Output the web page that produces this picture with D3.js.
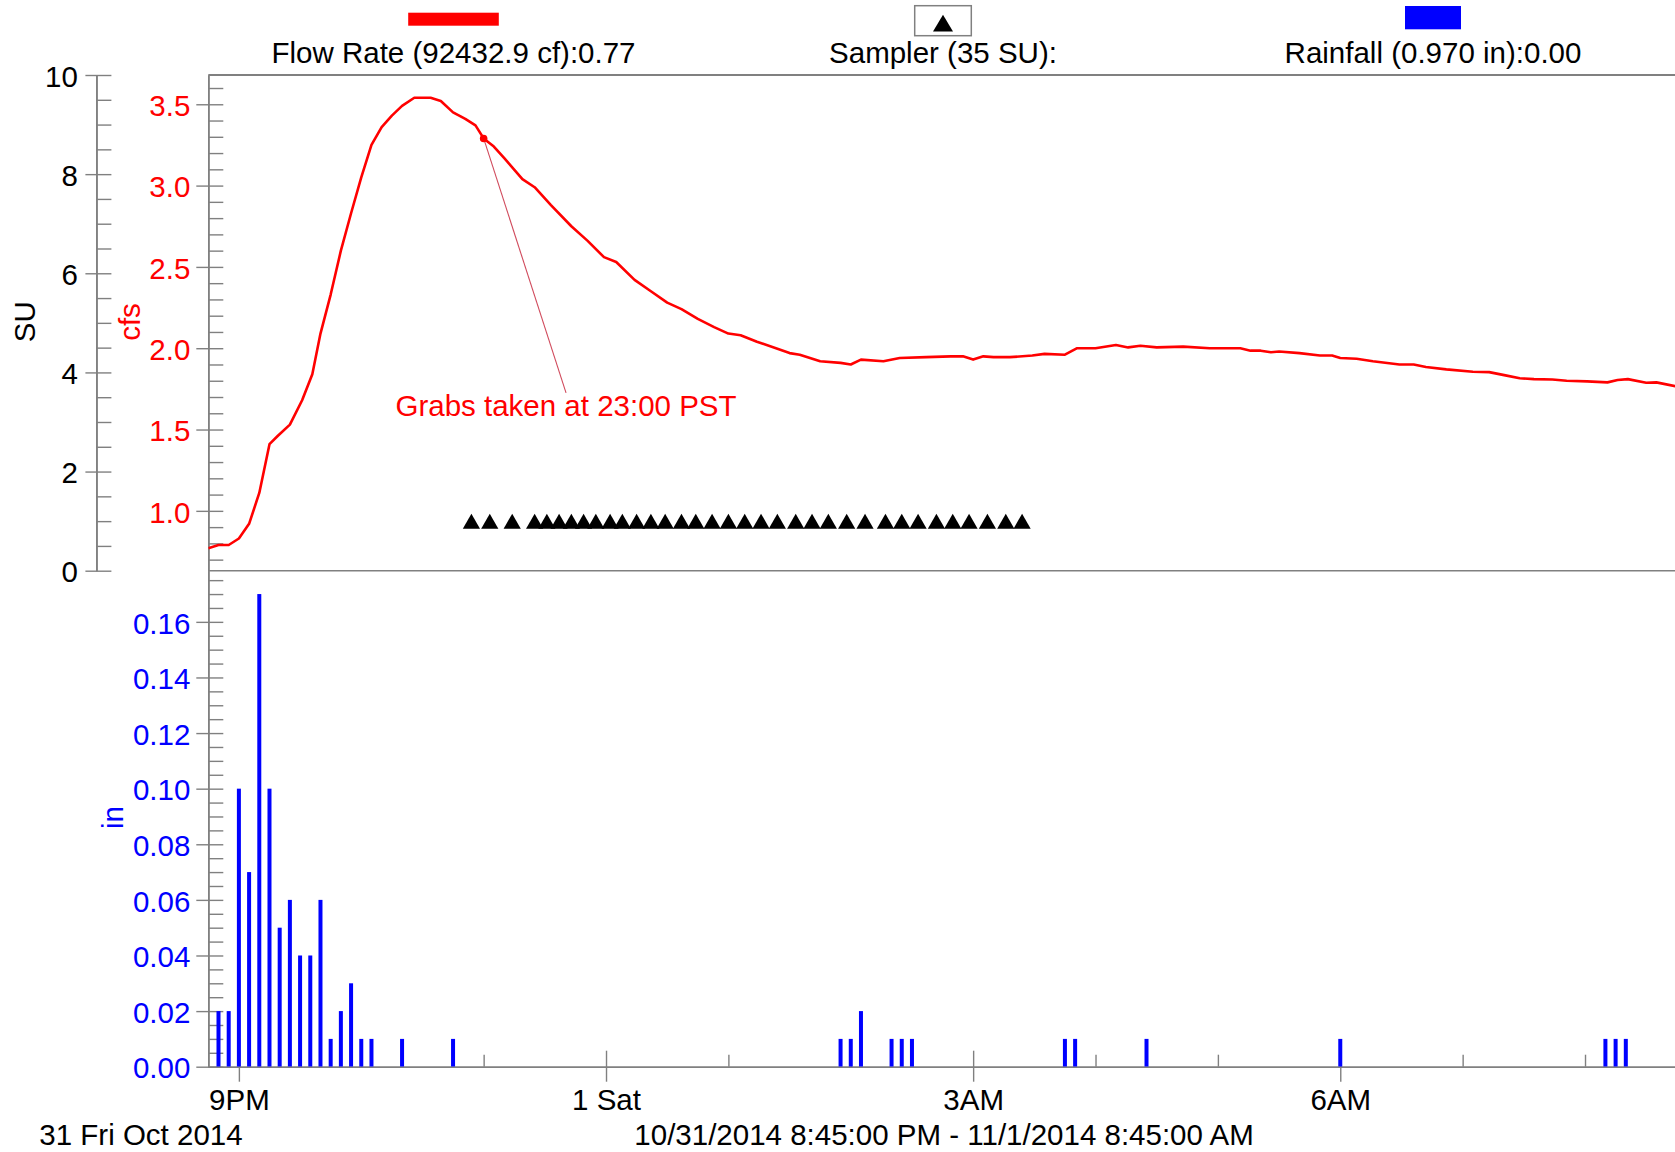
<!DOCTYPE html>
<html>
<head>
<meta charset="utf-8">
<script src="https://cdn.jsdelivr.net/npm/d3@7"></script>
<style>
  html, body { margin: 0; padding: 0; background: #fff; }
  svg { display: block; font-family: "Liberation Sans", Arial, Helvetica, sans-serif; }
</style>
</head>
<body>
<svg id="chart" width="1675" height="1152"></svg>
<script>
// ---- data -------------------------------------------------------------
// Flow rate (cfs), logged at the station
const flowSeries = [
  ["10-31 20:45",0.77],["10-31 20:50",0.79],["10-31 20:55",0.79],["10-31 21:00",0.83],
  ["10-31 21:05",0.92],["10-31 21:10",1.11],["10-31 21:15",1.41],["10-31 21:19",1.46],
  ["10-31 21:25",1.53],["10-31 21:31",1.68],["10-31 21:36",1.84],["10-31 21:40",2.09],
  ["10-31 21:45",2.33],["10-31 21:50",2.60],["10-31 21:55",2.83],["10-31 22:00",3.05],
  ["10-31 22:05",3.25],["10-31 22:10",3.36],["10-31 22:15",3.43],["10-31 22:20",3.49],
  ["10-31 22:26",3.54],["10-31 22:34",3.54],["10-31 22:39",3.52],["10-31 22:45",3.45],
  ["10-31 22:51",3.41],["10-31 22:56",3.37],["10-31 23:00",3.29],["10-31 23:05",3.24],
  ["10-31 23:10",3.17],["10-31 23:19",3.04],["10-31 23:25",2.99],["10-31 23:33",2.88],
  ["10-31 23:43",2.75],["10-31 23:51",2.66],["10-31 23:59",2.56],["11-01 00:05",2.53],
  ["11-01 00:14",2.42],["11-01 00:22",2.35],["11-01 00:30",2.28],["11-01 00:37",2.24],
  ["11-01 00:45",2.18],["11-01 00:53",2.13],["11-01 01:00",2.09],["11-01 01:06",2.08],
  ["11-01 01:14",2.04],["11-01 01:30",1.97],["11-01 01:35",1.96],["11-01 01:45",1.92],
  ["11-01 01:55",1.91],["11-01 02:00",1.90],["11-01 02:05",1.93],["11-01 02:16",1.92],
  ["11-01 02:24",1.94],["11-01 02:37",1.945],["11-01 02:49",1.95],["11-01 02:55",1.95],
  ["11-01 03:00",1.93],["11-01 03:05",1.95],["11-01 03:10",1.945],["11-01 03:18",1.945],
  ["11-01 03:29",1.955],["11-01 03:35",1.965],["11-01 03:45",1.96],["11-01 03:51",2.00],
  ["11-01 04:00",2.00],["11-01 04:10",2.02],["11-01 04:16",2.005],["11-01 04:22",2.015],
  ["11-01 04:30",2.005],["11-01 04:43",2.01],["11-01 04:56",2.00],["11-01 05:11",2.00],
  ["11-01 05:16",1.985],["11-01 05:21",1.985],["11-01 05:26",1.975],["11-01 05:30",1.98],
  ["11-01 05:40",1.97],["11-01 05:50",1.955],["11-01 05:56",1.955],["11-01 06:00",1.94],
  ["11-01 06:08",1.935],["11-01 06:16",1.92],["11-01 06:29",1.90],["11-01 06:36",1.90],
  ["11-01 06:42",1.885],["11-01 06:52",1.87],["11-01 07:05",1.855],["11-01 07:13",1.853],
  ["11-01 07:21",1.833],["11-01 07:28",1.815],["11-01 07:35",1.81],["11-01 07:44",1.808],
  ["11-01 07:51",1.80],["11-01 08:01",1.796],["11-01 08:11",1.79],["11-01 08:16",1.805],
  ["11-01 08:21",1.81],["11-01 08:30",1.788],["11-01 08:35",1.79],["11-01 08:45",1.765]
];

// Rainfall per 5-minute interval (in)
const rainTimes = [
  "10-31 20:50","10-31 20:55","10-31 21:00","10-31 21:05","10-31 21:10","10-31 21:15",
  "10-31 21:20","10-31 21:25","10-31 21:30","10-31 21:35","10-31 21:40","10-31 21:45",
  "10-31 21:50","10-31 21:55","10-31 22:00","10-31 22:05","10-31 22:20","10-31 22:45",
  "11-01 01:55","11-01 02:00","11-01 02:05","11-01 02:20","11-01 02:25","11-01 02:30",
  "11-01 03:45","11-01 03:50","11-01 04:25","11-01 06:00","11-01 08:10","11-01 08:15",
  "11-01 08:20"
];
const rainInches = [
  0.02,0.02,0.10,0.07,0.17,0.10,
  0.05,0.06,0.04,0.04,0.06,0.01,
  0.02,0.03,0.01,0.01,0.01,0.01,
  0.01,0.01,0.02,0.01,0.01,0.01,
  0.01,0.01,0.01,0.01,0.01,0.01,
  0.01
];

// Sampler events (SU)
const samplerSeries = [
  ["10-31 22:54",1],["10-31 23:03",1],["10-31 23:14",1],["10-31 23:25",1],["10-31 23:31",1],
  ["10-31 23:37",1],["10-31 23:43",1],["10-31 23:49",1],["10-31 23:55",1],["11-01 00:02",1],
  ["11-01 00:08",1],["11-01 00:15",1],["11-01 00:22",1],["11-01 00:29",1],["11-01 00:37",1],
  ["11-01 00:44",1],["11-01 00:52",1],["11-01 01:00",1],["11-01 01:08",1],["11-01 01:16",1],
  ["11-01 01:24",1],["11-01 01:33",1],["11-01 01:41",1],["11-01 01:49",1],["11-01 01:58",1],
  ["11-01 02:07",1],["11-01 02:17",1],["11-01 02:25",1],["11-01 02:33",1],["11-01 02:42",1],
  ["11-01 02:50",1],["11-01 02:58",1],["11-01 03:07",1],["11-01 03:16",1],["11-01 03:24",1]
];

// Axes / labels
const timeDomain = ["10-31 20:45", "11-01 08:45"];
const suDomain = [0, 10];
const cfsDomain = [0.632, 3.68];
const inDomain = [0, 0.1784];
const suTicks = [0, 2, 4, 6, 8, 10];
const cfsTicks = [1.0, 1.5, 2.0, 2.5, 3.0, 3.5];
const inTicks = [0, 0.02, 0.04, 0.06, 0.08, 0.10, 0.12, 0.14, 0.16];
const timeTicks = ["10-31 21:00", "11-01 00:00", "11-01 03:00", "11-01 06:00"];
const timeTickLabels = ["9PM", "1 Sat", "3AM", "6AM"];
const hourTicks = ["10-31 22:00","10-31 23:00","11-01 01:00","11-01 02:00",
                   "11-01 04:00","11-01 05:00","11-01 07:00","11-01 08:00"];
const legendLabels = ["Flow Rate (92432.9 cf):0.77", "Sampler (35 SU):", "Rainfall (0.970 in):0.00"];
const axisTitles = ["SU", "cfs", "in"];
const annotationTime = "10-31 23:00";
const annotationText = "Grabs taken at 23:00 PST";
const dateLabel = "31 Fri Oct 2014";
const rangeLabel = "10/31/2014 8:45:00 PM - 11/1/2014 8:45:00 AM";

// ---- setup ------------------------------------------------------------
const parseTime = d3.timeParse("%Y-%m-%d %H:%M");
const T = s => parseTime("2014-" + s);

const RED = "#ff0000", BLUE = "#0000ff", GRAY = "#808080";
const FS = 29.5;

const L = 208.3, R = 1676.8;
const TOP = 75, MID = 570.7, BOT = 1066.7;
const SU_X = 96.4;

const x = d3.scaleTime().domain(timeDomain.map(T)).range([L, R]);
const ySU = d3.scaleLinear().domain(suDomain).range([MID, TOP]);
const yCfs = d3.scaleLinear().domain(cfsDomain).range([MID, TOP]);
const yIn = d3.scaleLinear().domain(inDomain).range([BOT, MID]);

const svg = d3.select("#chart");
svg.append("rect").attr("width", 1675).attr("height", 1152).attr("fill", "#fff");

function styleAxis(g, color) {
  g.select(".domain").attr("stroke", GRAY).attr("stroke-width", 1.6);
  g.selectAll(".tick line").attr("stroke", GRAY).attr("stroke-width", 1.4);
  g.selectAll(".tick text").attr("fill", color).attr("font-size", FS)
    .attr("font-family", "Liberation Sans, Arial, sans-serif");
}

// ---- legend -----------------------------------------------------------
const legendX = [453.5, 943, 1433];
const legend = svg.append("g");
legend.append("rect").attr("x", legendX[0] - 45.3).attr("y", 12.7)
  .attr("width", 90.6).attr("height", 13).attr("fill", RED);
legend.append("rect").attr("x", legendX[1] - 28.3).attr("y", 5.7)
  .attr("width", 56.6).attr("height", 30).attr("fill", "#fff")
  .attr("stroke", GRAY).attr("stroke-width", 1.5);
legend.append("path")
  .attr("d", `M${legendX[1]},14.8 L${legendX[1] + 10},31.6 L${legendX[1] - 10},31.6 Z`)
  .attr("fill", "#000");
legend.append("rect").attr("x", legendX[2] - 28).attr("y", 6)
  .attr("width", 56).attr("height", 23.3).attr("fill", BLUE);
legend.selectAll("text.lg").data(legendLabels).join("text")
  .attr("class", "lg")
  .attr("x", (d, i) => legendX[i]).attr("y", 62.5)
  .attr("text-anchor", "middle").attr("font-size", FS).attr("fill", "#000")
  .text(d => d);

// ---- frame lines ------------------------------------------------------
svg.append("line").attr("x1", L).attr("x2", R).attr("y1", TOP).attr("y2", TOP)
  .attr("stroke", GRAY).attr("stroke-width", 2);
svg.append("line").attr("x1", L).attr("x2", R).attr("y1", MID).attr("y2", MID)
  .attr("stroke", GRAY).attr("stroke-width", 1.6);

// ---- SU axis ----------------------------------------------------------
const suMinor = d3.range(0.5, 10, 0.5).filter(v => v % 2 !== 0);
const gSUminor = svg.append("g").attr("transform", `translate(${SU_X},0)`)
  .call(d3.axisRight(ySU).tickValues(suMinor).tickSize(15).tickSizeOuter(0).tickFormat(""));
styleAxis(gSUminor, "#000");
const gSU = svg.append("g").attr("transform", `translate(${SU_X},0)`)
  .call(d3.axisLeft(ySU).tickValues(suTicks).tickSize(11).tickSizeOuter(0).tickPadding(7.5));
styleAxis(gSU, "#000");
gSU.selectAll(".tick line").attr("x1", 15);
gSU.selectAll(".tick text").attr("dy", "0.38em");

// ---- cfs axis ---------------------------------------------------------
const cfsMinor = d3.range(7, 37).map(v => v / 10).filter(v => Math.round(v * 10) % 5 !== 0);
const gCfsMinor = svg.append("g").attr("transform", `translate(${L},0)`)
  .call(d3.axisRight(yCfs).tickValues(cfsMinor).tickSize(15).tickSizeOuter(0).tickFormat(""));
styleAxis(gCfsMinor, RED);
const gCfs = svg.append("g").attr("transform", `translate(${L},0)`)
  .call(d3.axisLeft(yCfs).tickValues(cfsTicks).tickSize(12).tickSizeOuter(0)
    .tickPadding(6).tickFormat(d3.format(".1f")));
styleAxis(gCfs, RED);
gCfs.selectAll(".tick line").attr("x1", 15);
gCfs.selectAll(".tick text").attr("dy", "0.38em");

// ---- rainfall axis ----------------------------------------------------
const inMinor = d3.range(1, 36).map(v => v * 0.005).filter((v, i) => (i + 1) % 4 !== 0);
const gInMinor = svg.append("g").attr("transform", `translate(${L},0)`)
  .call(d3.axisRight(yIn).tickValues(inMinor).tickSize(15).tickSizeOuter(0).tickFormat(""));
styleAxis(gInMinor, BLUE);
const gIn = svg.append("g").attr("transform", `translate(${L},0)`)
  .call(d3.axisLeft(yIn).tickValues(inTicks).tickSize(12).tickSizeOuter(0)
    .tickPadding(6).tickFormat(d3.format(".2f")));
styleAxis(gIn, BLUE);
gIn.selectAll(".tick line").attr("x1", 15);
gIn.selectAll(".tick text").attr("dy", "0.38em");

// ---- time axis --------------------------------------------------------
const gHours = svg.append("g").attr("transform", `translate(0,${BOT})`)
  .call(d3.axisTop(x).tickValues(hourTicks.map(T)).tickSize(12).tickSizeOuter(0).tickFormat(""));
styleAxis(gHours, "#000");
const gTime = svg.append("g").attr("transform", `translate(0,${BOT})`)
  .call(d3.axisBottom(x).tickValues(timeTicks.map(T)).tickSize(15).tickSizeOuter(0)
    .tickFormat((d, i) => timeTickLabels[i]));
styleAxis(gTime, "#000");
gTime.selectAll(".tick line").attr("y1", -16);
gTime.selectAll(".tick text").attr("y", 43.3).attr("dy", 0);

// ---- axis titles ------------------------------------------------------
const titlePos = [[24, 321.7, "#000"], [129.5, 322, RED], [112, 817.5, BLUE]];
svg.selectAll("text.atitle").data(axisTitles).join("text")
  .attr("class", "atitle")
  .attr("transform", (d, i) => `translate(${titlePos[i][0]},${titlePos[i][1]}) rotate(-90)`)
  .attr("text-anchor", "middle").attr("dominant-baseline", "central")
  .attr("font-size", FS).attr("fill", (d, i) => titlePos[i][2])
  .text(d => d);

svg.append("text").attr("x", 39.3).attr("y", 1145).attr("font-size", FS)
  .attr("fill", "#000").text(dateLabel);
svg.append("text").attr("x", (L + R) / 2 + 1.5).attr("y", 1145).attr("font-size", FS)
  .attr("text-anchor", "middle").attr("fill", "#000").text(rangeLabel);

// ---- plot content -----------------------------------------------------
svg.append("clipPath").attr("id", "plotClip")
  .append("rect").attr("x", L).attr("y", TOP).attr("width", R - L).attr("height", BOT - TOP);
const plot = svg.append("g").attr("clip-path", "url(#plotClip)");

// Rainfall bars
const rain = rainTimes.map((t, i) => ({ t: T(t), v: rainInches[i] }));
plot.selectAll("rect.rain").data(rain).join("rect")
  .attr("class", "rain")
  .attr("x", d => x(d.t) - 2).attr("width", 4)
  .attr("y", d => yIn(d.v)).attr("height", d => yIn(0) - yIn(d.v))
  .attr("fill", BLUE);

// Flow line
const flow = flowSeries.map(([t, v]) => ({ t: T(t), v }));
plot.append("path").datum(flow)
  .attr("d", d3.line().x(d => x(d.t)).y(d => yCfs(d.v)))
  .attr("fill", "none").attr("stroke", RED).attr("stroke-width", 2.6)
  .attr("stroke-linejoin", "round");

// Sampler markers
const sampler = samplerSeries.map(([t, v]) => ({ t: T(t), v }));
plot.selectAll("path.sampler").data(sampler).join("path")
  .attr("class", "sampler")
  .attr("transform", d => `translate(${x(d.t)},${ySU(d.v)})`)
  .attr("d", "M0,-7.5 L8.6,7.5 L-8.6,7.5 Z")
  .attr("fill", "#000");

// Annotation
const annT = T(annotationTime);
const annPoint = flow.find(d => +d.t === +annT);
const ax = x(annPoint.t), ay = yCfs(annPoint.v);
const labelX = ax + 82.4, labelY = ay + 254.4;
plot.append("line").attr("x1", ax).attr("y1", ay).attr("x2", labelX).attr("y2", labelY)
  .attr("stroke", "#d04a5c").attr("stroke-width", 1.1);
plot.append("circle").attr("cx", ax).attr("cy", ay).attr("r", 3.8).attr("fill", RED);
svg.append("text").attr("x", labelX).attr("y", labelY + 23.5)
  .attr("text-anchor", "middle").attr("font-size", FS).attr("fill", RED)
  .text(annotationText);
</script>
</body>
</html>
